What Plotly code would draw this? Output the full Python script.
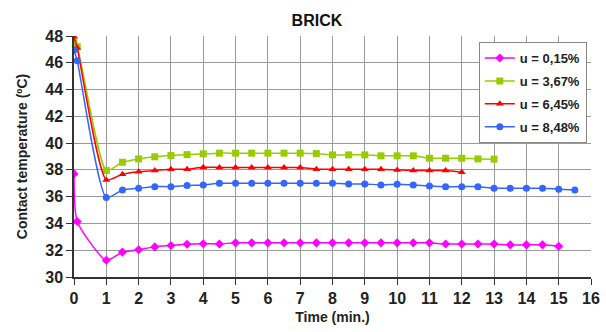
import plotly.graph_objects as go

t_mag = [0, 0.1, 1, 1.5, 2, 2.5, 3, 3.5, 4, 4.5, 5, 5.5, 6, 6.5, 7, 7.5, 8, 8.5, 9, 9.5, 10, 10.5, 11, 11.5, 12, 12.5, 13, 13.5, 14, 14.5, 15]
u015 = [37.7, 34.15, 31.25, 31.86, 32.03, 32.25, 32.35, 32.45, 32.48, 32.47, 32.55, 32.55, 32.55, 32.55, 32.55, 32.55, 32.55, 32.55, 32.55, 32.55, 32.55, 32.55, 32.55, 32.47, 32.47, 32.47, 32.47, 32.4, 32.4, 32.4, 32.3]

t_grn = [0, 0.1, 1, 1.5, 2, 2.5, 3, 3.5, 4, 4.5, 5, 5.5, 6, 6.5, 7, 7.5, 8, 8.5, 9, 9.5, 10, 10.5, 11, 11.5, 12, 12.5, 13]
u367 = [47.5, 47.2, 37.95, 38.57, 38.82, 38.98, 39.07, 39.14, 39.2, 39.25, 39.25, 39.25, 39.25, 39.25, 39.25, 39.22, 39.12, 39.12, 39.12, 39.05, 39.05, 39.05, 38.87, 38.87, 38.87, 38.82, 38.8]

t_red = [0, 0.1, 1, 1.5, 2, 2.5, 3, 3.5, 4, 4.5, 5, 5.5, 6, 6.5, 7, 7.5, 8, 8.5, 9, 9.5, 10, 10.5, 11, 11.5, 12]
u645 = [47.95, 47.1, 37.25, 37.68, 37.87, 37.95, 38.05, 38.05, 38.2, 38.18, 38.18, 38.18, 38.18, 38.18, 38.18, 38.05, 38.05, 38.05, 38.05, 38.05, 38.0, 37.95, 37.95, 37.95, 37.83]

t_blu = [0, 0.1, 1, 1.5, 2, 2.5, 3, 3.5, 4, 4.5, 5, 5.5, 6, 6.5, 7, 7.5, 8, 8.5, 9, 9.5, 10, 10.5, 11, 11.5, 12, 12.5, 13, 13.5, 14, 14.5, 15, 15.5]
u848 = [46.95, 46.15, 35.93, 36.5, 36.63, 36.75, 36.75, 36.83, 36.88, 37.0, 37.0, 37.0, 37.0, 37.0, 37.0, 37.0, 37.0, 36.95, 36.95, 36.88, 36.93, 36.88, 36.8, 36.75, 36.75, 36.75, 36.63, 36.63, 36.63, 36.63, 36.56, 36.5]

names = ["u = 0,15%", "u = 3,67%", "u = 6,45%", "u = 8,48%"]
colors = ["#FF00FF", "#99CC00", "#FF0000", "#3366FF"]
symbols = ["diamond", "square", "triangle-up", "circle"]

fig = go.Figure()
for i, (t, y, n, c, s) in enumerate(zip([t_mag, t_grn, t_red, t_blu], [u015, u367, u645, u848], names, colors, symbols)):
    fig.add_trace(go.Scatter(
        x=t, y=y, name="<b>" + n + "</b>", mode="lines+markers", legendgroup="g%d" % i,
        line=dict(color=c, width=1.5, shape="spline", smoothing=0.6),
        marker=dict(color=c, symbol=s, size=7),
    ))

font = "Liberation Sans, Arial, sans-serif"
fig.update_layout(
    width=606, height=332,
    margin=dict(l=74, r=15, t=36, b=55),
    paper_bgcolor="white", plot_bgcolor="white",
    font=dict(family=font, color="#222", size=13),
    title=dict(text="<b>BRICK</b>", x=0.523, xanchor="center", y=0.94, yanchor="middle",
               font=dict(size=16, family=font, color="#111")),
    showlegend=True,
    legend=dict(x=0.783, y=0.975, xanchor="left", yanchor="top",
                bordercolor="#888", borderwidth=1, bgcolor="white",
                font=dict(size=13, family=font, color="#222"),
                itemwidth=30, tracegroupgap=3),
)
fig.update_xaxes(
    range=[0, 16], tick0=0, dtick=1, showgrid=True, gridcolor="#9a9a9a", gridwidth=1,
    showline=True, linecolor="#333", linewidth=1.5, ticks="outside", ticklen=6, tickcolor="#333",
    tickfont=dict(size=16, family=font, color="#222"), tickprefix="<b>", ticksuffix="</b>",
    title=dict(text="<b>Time (min.)</b>", font=dict(size=14, family=font, color="#222"), standoff=6),
    zeroline=False, mirror=False, automargin=False,
)
fig.update_yaxes(
    range=[30, 48], tick0=30, dtick=2, showgrid=True, gridcolor="#9a9a9a", gridwidth=1,
    showline=True, linecolor="#333", linewidth=1.5, ticks="outside", ticklen=6, tickcolor="#333",
    tickfont=dict(size=16, family=font, color="#222"), tickprefix="<b>", ticksuffix="</b>",
    title=dict(text="<b>Contact temperature (ºC)</b>", font=dict(size=14, family=font, color="#222"), standoff=14),
    zeroline=False, automargin=False,
)
fig.write_html("out.html")
